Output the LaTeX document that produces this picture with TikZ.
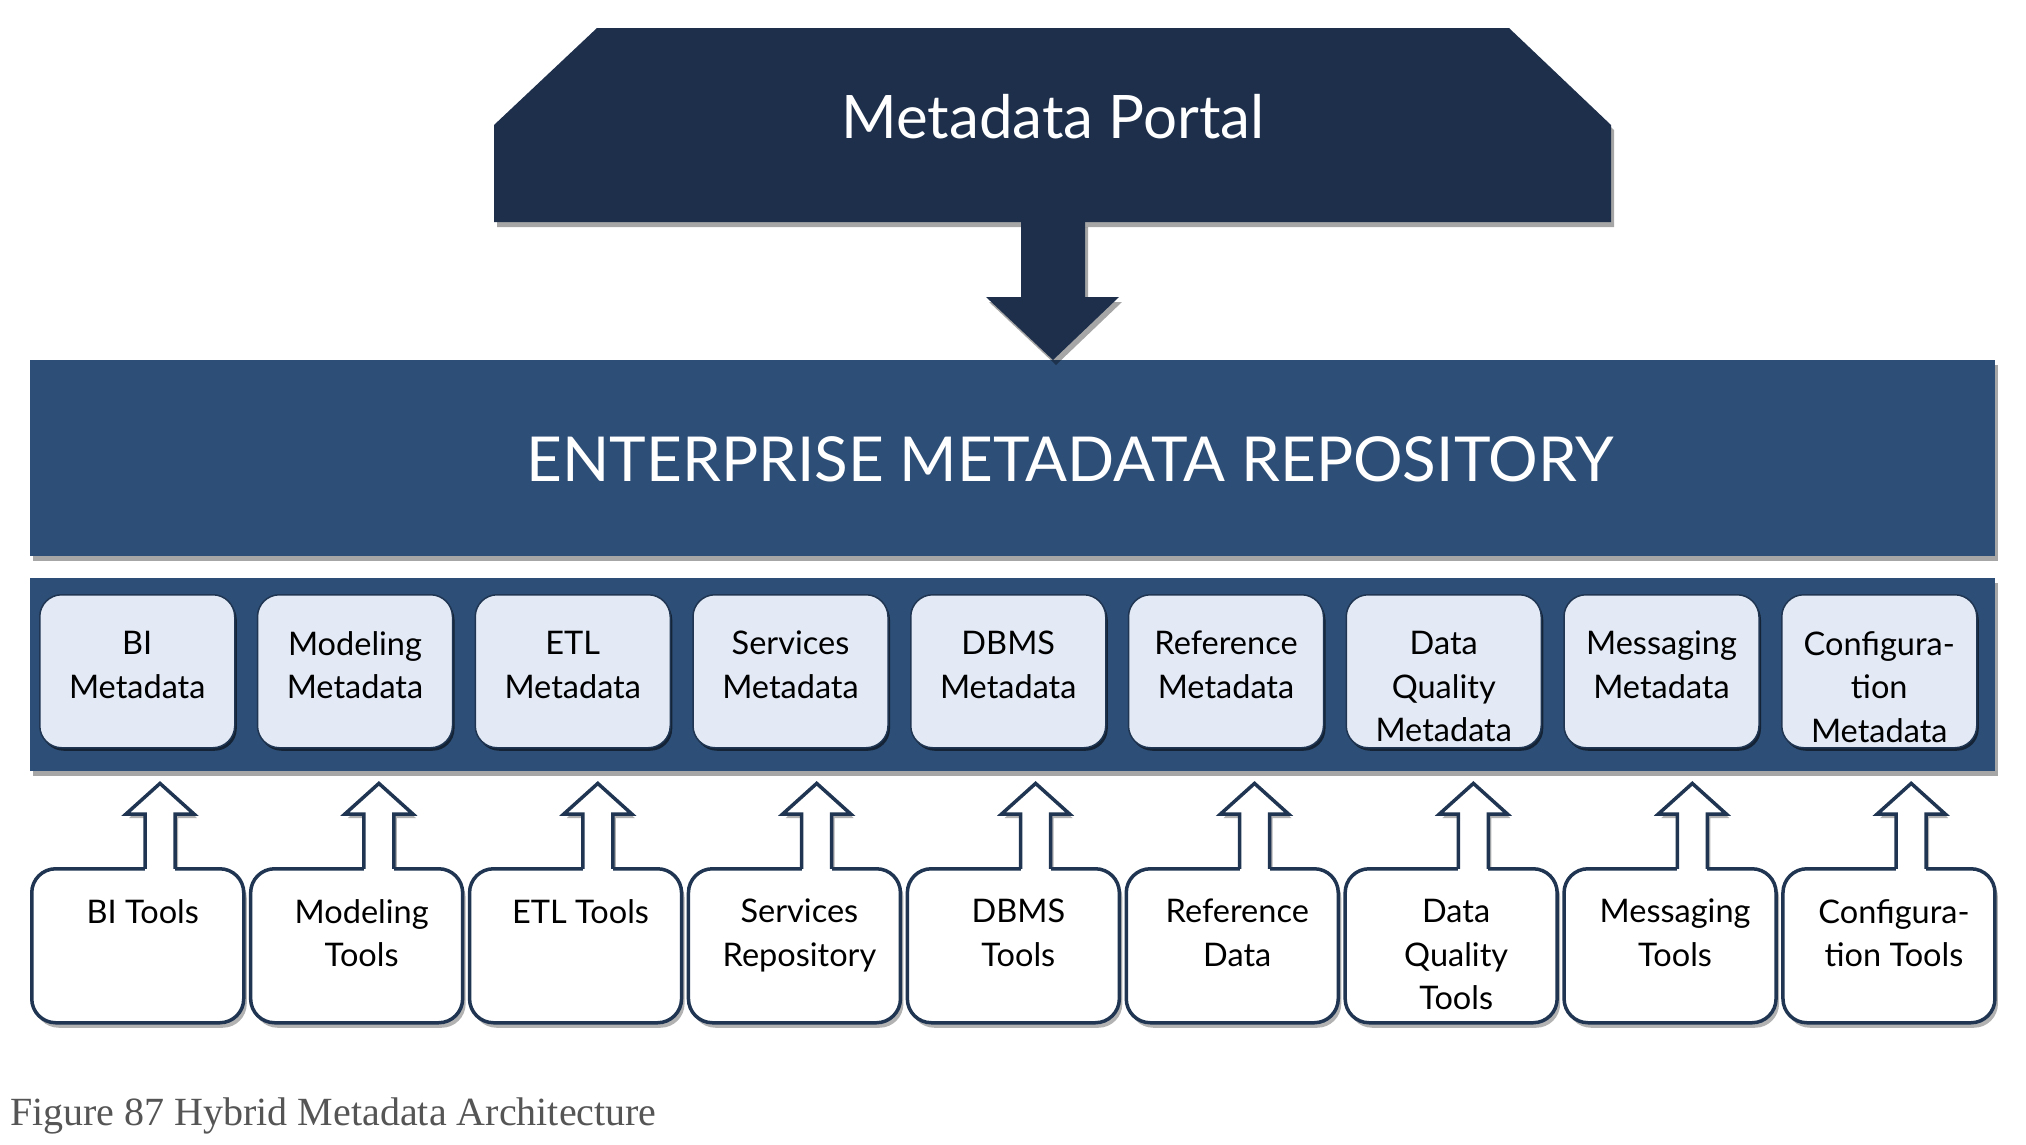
\documentclass[tikz,border=0pt]{standalone}
\usepackage{fontspec}
\setmainfont{Lato}
\newfontfamily\capfont{Liberation Serif}
\usetikzlibrary{shadows,calc}
\definecolor{navy}{HTML}{1D2F4B}
\definecolor{repo}{HTML}{2D4E76}
\definecolor{metafill}{HTML}{E3EAF6}
\definecolor{edge}{HTML}{1F3552}
\definecolor{capgray}{HTML}{555555}
\tikzset{
  bigshadow/.style={drop shadow={shadow xshift=3pt, shadow yshift=-5pt, opacity=0.35, fill=black}},
  metabox/.style={draw=edge, line width=1.5pt, fill=metafill, rounded corners=22pt,
    minimum width=195pt, minimum height=153pt, anchor=north west, inner sep=0pt,
    drop shadow={shadow xshift=2pt, shadow yshift=-3pt, opacity=0.55, fill=black}},
  toolbox/.style={draw=edge, line width=3.5pt, fill=white, rounded corners=24pt,
    minimum width=212pt, minimum height=154pt, anchor=north west, inner sep=0pt,
    drop shadow={shadow xshift=3pt, shadow yshift=-5pt, opacity=0.3, fill=black}},
  boxtext/.style={font=\fontsize{32.5}{43.5}\selectfont, align=center, anchor=north, inner sep=0pt, text=black},
  titletext/.style={text=white, anchor=base, inner sep=0pt},
  uparrow/.style={draw=edge, line width=3.5pt, line join=miter},
}
\begin{document}
\begin{tikzpicture}[x=1pt,y=-1pt]
\useasboundingbox (0,0) rectangle (2026,1144);
\fill[white] (0,0) rectangle (2026,1144);

% portal
\fill[navy, bigshadow] (494,125) -- (597,28) -- (1509,28) -- (1611,125) -- (1611,222) -- (494,222) -- cycle;
\node[titletext, font=\fontsize{60}{70}\selectfont] (portal) at (1053,138) {Metadata Portal};
\coordinate (pb) at (1053,222);

% repository
\node[fill=repo, minimum width=1965pt, minimum height=196pt, anchor=north west, inner sep=0pt, bigshadow] (repo) at (30,360) {};
\node[titletext, font=\fontsize{62}{70}\selectfont] (repotext) at (1070,481) {ENTERPRISE METADATA REPOSITORY};

% down arrow
\fill[navy, bigshadow] ($(pb)+(-32,0)$) -- ($(pb)+(-32,75)$) -- ($(pb)+(-67,75)$) -- (repo.north -| pb) -- ($(pb)+(66,75)$) -- ($(pb)+(32,75)$) -- ($(pb)+(32,0)$) -- cycle;

% band
\node[fill=repo, minimum width=1965pt, minimum height=193pt, anchor=north west, inner sep=0pt, bigshadow] (band) at (30,578) {};

\foreach \i/\metaname/\toolname in {
  0/{BI\\Metadata}/{BI Tools},
  1/{Modeling\\Metadata}/{Modeling\\Tools},
  2/{ETL\\Metadata}/{ETL Tools},
  3/{Services\\Metadata}/{Services\\Repository},
  4/{DBMS\\Metadata}/{DBMS\\Tools},
  5/{Reference\\Metadata}/{Reference\\Data},
  6/{Data\\Quality\\Metadata}/{Data\\Quality\\Tools},
  7/{Messaging\\Metadata}/{Messaging\\Tools},
  8/{Configura-\\tion\\Metadata}/{Configura-\\tion Tools}} {
  \node[metabox] (m\i) at ({39+217.75*\i},594) {};
  \node[boxtext] (mt\i) at ($(m\i.north)+(0,37)$) {\metaname};
  \coordinate (a\i) at ({160+218.9*\i},867);
  \fill[white, drop shadow={shadow xshift=3pt, shadow yshift=-4pt, opacity=0.3, fill=black}]
    ($(a\i)+(-15,0)$) -- ($(a\i)+(-15,-53)$) -- ($(a\i)+(-34,-53)$) -- ($(a\i |- band.south)+(0,12)$)
    -- ($(a\i)+(34,-53)$) -- ($(a\i)+(15,-53)$) -- ($(a\i)+(15,0)$) -- cycle;
  \node[toolbox] (t\i) at ({30+218.9*\i},867) {};
  \fill[white] ($(a\i)+(-15,-4)$) rectangle ($(a\i)+(15,5)$);
  \draw[uparrow] ($(a\i)+(-15,1.75)$) -- ($(a\i)+(-15,-53)$) -- ($(a\i)+(-34,-53)$) -- ($(a\i |- band.south)+(0,12)$)
    -- ($(a\i)+(34,-53)$) -- ($(a\i)+(15,-53)$) -- ($(a\i)+(15,1.75)$);
  \node[boxtext] (tt\i) at ($(t\i.north)+(5,32)$) {\toolname};
}

% caption
\node[anchor=base west, inner sep=0pt, text=capgray, font=\capfont\fontsize{40}{48}\selectfont] (caption) at (10,1125) {Figure 87 Hybrid Metadata Architecture};
\end{tikzpicture}
\end{document}
